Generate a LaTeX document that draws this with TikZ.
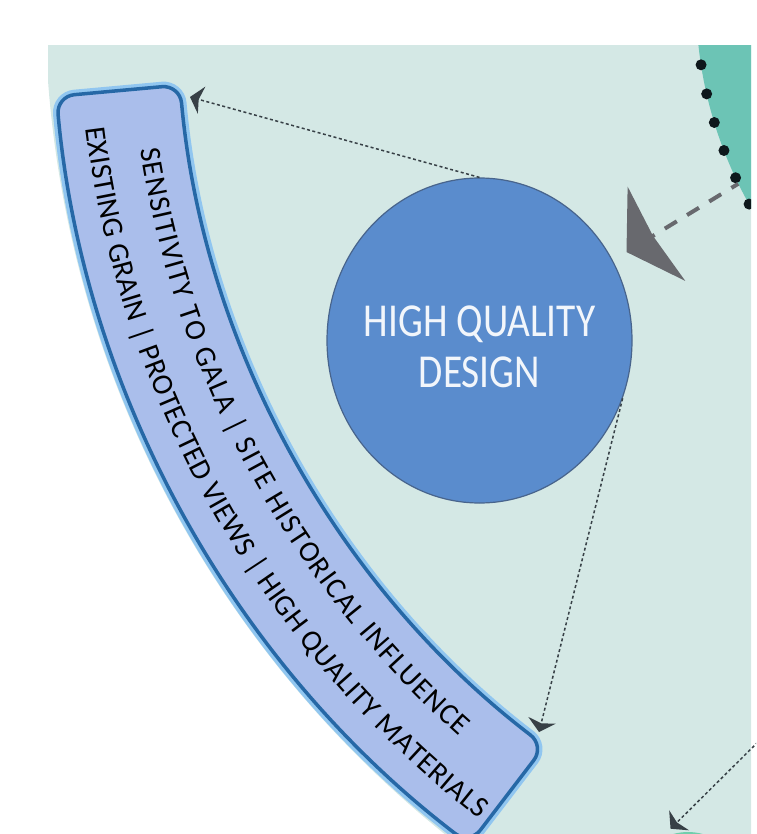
\documentclass[tikz,border=0pt]{standalone}
\usepackage{fontspec}
\setmainfont{Carlito}
\usetikzlibrary{shapes.geometric,arrows.meta,decorations.text}

\definecolor{bgcol}{RGB}{212,232,229}
\definecolor{tealcol}{RGB}{108,196,181}
\definecolor{mintcol}{RGB}{112,206,172}
\definecolor{bandfill}{RGB}{170,190,235}
\definecolor{bandline}{RGB}{38,104,166}
\definecolor{bandglow}{RGB}{145,198,240}
\definecolor{hqdfill}{RGB}{90,140,205}
\definecolor{hqdline}{RGB}{72,100,140}
\definecolor{linkcol}{RGB}{55,64,70}
\definecolor{bigcol}{RGB}{104,105,110}
\definecolor{dotcol}{RGB}{14,24,28}

\newcommand\bandfont{\fontsize{29.6}{29.6}\selectfont}

\begin{document}
\begin{tikzpicture}[x=1pt,y=1pt,
	band/.style={fill=bandfill, draw=bandline, line width=3.5pt, rounded corners=18pt,
		preaction={draw=bandglow, line width=10pt}},
	bandtext/.style={decorate, decoration={text along path, text format delimiters={[}{]},
		text align=fit to path, text={#1}}},
	tealdisc/.style={circle, minimum size=838pt, inner sep=0pt, fill=tealcol},
	lowdisc/.style={circle, minimum size=112pt, inner sep=0pt, fill=mintcol},
	hqdcircle/.style={ellipse, minimum width=305pt, minimum height=325pt, inner sep=0pt,
		fill=hqdfill, draw=hqdline, line width=1.2pt, text={white!92!hqdfill},
		font=\fontsize{39.4}{42.5}\selectfont},
	link/.style={draw=linkcol, line width=1.5pt, dash pattern=on 3pt off 2.5pt,
		-{Stealth[length=12pt,width=28pt,inset=3pt]}},
	biglink/.style={draw=bigcol, line width=4pt, dash pattern=on 14pt off 12pt, dash phase=6pt,
		-{Stealth[length=35pt,width=110pt,inset=4pt]}}]
	\useasboundingbox (0,0) rectangle (756,-834);
	\clip (0,0) rectangle (756,-834);
	\coordinate (C) at (1115,0);
	\begin{scope}
		\clip (48,-46) rectangle (751,-834);
		\clip (C) circle[radius=1070];
		\fill[bgcol] (0,0) rectangle (756,-834);
		\node[tealdisc] (teal) at (C) {};
		\foreach \a in {0,...,5}
			\fill[dotcol] ([shift={(188.9+4.05*\a:419)}]C) circle[radius=5.5];
		\node[lowdisc] (lower) at (688,-888) {};
	\end{scope}
	\draw[band] ([shift={(185.2:939)}]C) arc[start angle=185.2, end angle=232.6, radius=939]
		-- ([shift={(232.6:1063)}]C) arc[start angle=232.6, end angle=185.2, radius=1063] -- cycle;
	\path[bandtext={[\bandfont]SENSITIVITY TO GALA | SITE HISTORICAL INFLUENCE}]
		([shift={(188.7:986)}]C) arc[start angle=188.7, end angle=228.3, radius=986];
	\path[bandtext={[\bandfont]EXISTING GRAIN | PROTECTED VIEWS | HIGH QUALITY MATERIALS}]
		([shift={(187.1:1037)}]C) arc[start angle=187.1, end angle=232.1, radius=1037];
	\node[hqdcircle] (hqd) at (479.5,-340.5) {\makebox[0pt]{\scalebox{1}[1.2]{\begin{tabular}{@{}c@{}}\rule{0pt}{49pt}HIGH QUALITY\\DESIGN\end{tabular}}}};
	\coordinate (bandtop) at (190,-97);
	\coordinate (bandend) at (539,-732);
	\coordinate (offright) at (762,-738);
	\draw[biglink, shorten >=16pt] (teal.206) -- (hqd.31);
	\draw[link] (hqd.north) -- (bandtop);
	\draw[link] (hqd.-22) -- (bandend);
	\draw[link, shorten >=15pt] (offright) -- (lower.120);
\end{tikzpicture}
\end{document}
